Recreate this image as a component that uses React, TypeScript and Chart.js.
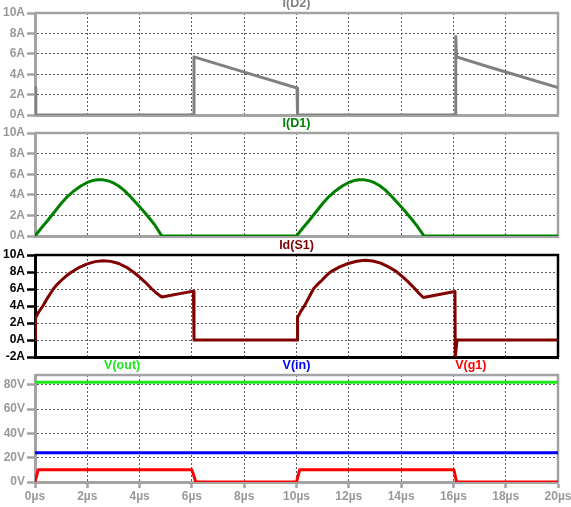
import { useEffect, useRef } from "react";
import { Chart, registerables } from "chart.js";

Chart.register(...registerables);

// Shared time axis (µs)
const timeTicks = [0, 2, 4, 6, 8, 10, 12, 14, 16, 18, 20];
const timeUnit = "µs";

// I(D2)
const d2Time = [0, 0.03, 6.06, 6.08, 8.0, 10.02, 10.04, 16.07, 16.09, 16.12, 17.3, 20];
const d2Amps = [2.7, 0, 0, 5.7, 4.2, 2.65, 0, 0, 7.7, 5.7, 4.75, 2.7];

// I(D1)
const d1Time = [
  0, 0.25, 0.5, 0.75, 1.0, 1.25, 1.5, 1.75, 2.0, 2.2, 2.4, 2.6, 2.8, 3.0, 3.2, 3.4, 3.6, 3.8, 4.0, 4.2, 4.4, 4.6, 4.85,
  10.0, 10.25, 10.5, 10.75, 11.0, 11.25, 11.5, 11.75, 12.0, 12.2, 12.4, 12.6, 12.8, 13.0, 13.2, 13.4, 13.6, 13.8, 14.0, 14.2, 14.4, 14.6, 14.88,
  20,
];
const d1Amps = [
  0, 0.8, 1.55, 2.35, 3.15, 3.85, 4.4, 4.85, 5.2, 5.38, 5.47, 5.45, 5.35, 5.15, 4.85, 4.45, 3.95, 3.4, 2.85, 2.25, 1.65, 1.0, 0,
  0, 0.8, 1.55, 2.35, 3.15, 3.85, 4.4, 4.85, 5.2, 5.38, 5.47, 5.45, 5.35, 5.15, 4.85, 4.45, 3.95, 3.4, 2.85, 2.25, 1.65, 1.0, 0,
  0,
];

// Id(S1)
const s1Time = [
  0, 0.02, 0.15, 0.3, 0.5, 0.7, 0.85, 1.0, 1.2, 1.4, 1.7, 2.0, 2.3, 2.6, 2.9, 3.2, 3.5, 3.76, 4.0, 4.2, 4.47, 4.65, 4.85,
  6.06, 6.08,
  10.02, 10.04, 10.17, 10.32, 10.5, 10.66, 10.82, 10.98, 11.15, 11.32, 11.65, 11.98, 12.3, 12.62, 12.92, 13.22, 13.52, 13.82, 14.05, 14.25, 14.52, 14.68, 14.85,
  16.06, 16.07, 16.14, 20,
];
const s1Amps = [
  0, 2.6, 3.35, 4.0, 5.05, 6.0, 6.55, 7.0, 7.55, 8.0, 8.55, 8.95, 9.22, 9.33, 9.25, 9.0, 8.55, 8.0, 7.4, 6.85, 6.0, 5.5, 5.05,
  5.75, 0,
  0, 2.65, 3.4, 4.1, 5.15, 6.05, 6.6, 7.05, 7.6, 8.05, 8.6, 9.0, 9.27, 9.38, 9.3, 9.05, 8.6, 8.05, 7.45, 6.9, 6.05, 5.5, 5.0,
  5.7, -2, 0, 0,
];

// V(out), V(in), V(g1)
const outTime = [0, 20];
const outVolts = [82, 82];
const inTime = [0, 20];
const inVolts = [24, 24];
const g1Time = [0, 0.12, 6.0, 6.15, 10.0, 10.12, 16.02, 16.12, 20];
const g1Volts = [0, 10, 10, 0, 0, 10, 10, 0, 0];

// Y tick values per pane
const ampTicks = [0, 2, 4, 6, 8, 10];
const switchAmpTicks = [-2, 0, 2, 4, 6, 8, 10];
const voltTicks = [0, 20, 40, 60, 80];

const W = 571;
const H = 507;
const FONT = "'Liberation Sans', Arial, Helvetica, sans-serif";
const GRID = "#5a5a5a";

type Trace = { label: string; time: number[]; values: number[]; color: string };
type Pane = {
  traces: Trace[];
  yMin: number;
  yMax: number;
  yTicks: number[];
  unit: string;
  top: number;
  bottom: number;
  frame: string;
  text: string;
  showTime: boolean;
};

const panes: Pane[] = [
  {
    traces: [{ label: "I(D2)", time: d2Time, values: d2Amps, color: "#808080" }],
    yMin: 0, yMax: 10, yTicks: ampTicks, unit: "A",
    top: 13, bottom: 115, frame: "#a3a3a3", text: "#999999", showTime: false,
  },
  {
    traces: [{ label: "I(D1)", time: d1Time, values: d1Amps, color: "#008000" }],
    yMin: 0, yMax: 10, yTicks: ampTicks, unit: "A",
    top: 133, bottom: 236, frame: "#a3a3a3", text: "#999999", showTime: false,
  },
  {
    traces: [{ label: "Id(S1)", time: s1Time, values: s1Amps, color: "#800000" }],
    yMin: -2, yMax: 10, yTicks: switchAmpTicks, unit: "A",
    top: 255, bottom: 357, frame: "#000000", text: "#000000", showTime: false,
  },
  {
    traces: [
      { label: "V(out)", time: outTime, values: outVolts, color: "#1ee61e" },
      { label: "V(in)", time: inTime, values: inVolts, color: "#0000ff" },
      { label: "V(g1)", time: g1Time, values: g1Volts, color: "#ff0000" },
    ],
    yMin: 0, yMax: 88, yTicks: voltTicks, unit: "V",
    top: 375, bottom: 482, frame: "#a3a3a3", text: "#999999", showTime: true,
  },
];

// Top and right edges of the plot frame
const paneFrame = {
  id: "paneFrame",
  beforeDatasetsDraw(chart: any, _args: any, opts: any) {
    const { ctx, chartArea } = chart;
    ctx.save();
    ctx.strokeStyle = opts.color;
    ctx.lineWidth = 2.5;
    ctx.beginPath();
    ctx.moveTo(chartArea.left, chartArea.top);
    ctx.lineTo(chartArea.right, chartArea.top);
    ctx.lineTo(chartArea.right, chartArea.bottom);
    ctx.stroke();
    ctx.restore();
  },
};

// Trace names above each pane, spread evenly across the width
const paneTitles = {
  id: "paneTitles",
  afterDraw(chart: any) {
    const { ctx, chartArea } = chart;
    const sets = chart.data.datasets;
    const n = sets.length;
    ctx.save();
    ctx.font = `bold 12.5px ${FONT}`;
    ctx.textAlign = "center";
    ctx.textBaseline = "middle";
    sets.forEach((ds: any, i: number) => {
      const x = chartArea.left + (chartArea.width * (2 * i + 1)) / (2 * n);
      ctx.fillStyle = ds.borderColor;
      ctx.fillText(ds.label, x, chartArea.top - 9);
    });
    ctx.restore();
  },
};

function PaneChart({ pane }: { pane: Pane }) {
  const ref = useRef<HTMLCanvasElement | null>(null);

  useEffect(() => {
    if (!ref.current) return;
    const edgeHidden = (c: any) => {
      const v = c.tick ? c.tick.value : undefined;
      return v === c.scale.min || v === c.scale.max ? "rgba(0,0,0,0)" : GRID;
    };
    const chart = new Chart(ref.current, {
      type: "line",
      data: {
        datasets: pane.traces.map((tr) => ({
          label: tr.label,
          data: tr.time.map((t, i) => ({ x: t, y: tr.values[i] })),
          borderColor: tr.color,
          backgroundColor: tr.color,
          borderWidth: 3,
          pointRadius: 0,
          tension: 0,
          fill: false,
          borderJoinStyle: "round",
        })),
      },
      options: {
        animation: false,
        responsive: false,
        devicePixelRatio: 1,
        events: [],
        layout: {
          autoPadding: false,
          padding: { left: 0, right: 13, top: pane.top, bottom: pane.showTime ? 0 : H - pane.bottom },
        },
        plugins: {
          legend: { display: false },
          tooltip: { enabled: false },
          paneFrame: { color: pane.frame },
        } as any,
        scales: {
          x: {
            type: "linear",
            position: "bottom",
            min: 0,
            max: 20,
            afterBuildTicks: (s: any) => {
              s.ticks = timeTicks.map((v) => ({ value: v }));
            },
            afterFit: (s: any) => {
              s.height = pane.showTime ? H - pane.bottom : 0;
              s.paddingLeft = 0;
              s.paddingRight = 0;
            },
            ticks: {
              display: pane.showTime,
              autoSkip: false,
              maxRotation: 0,
              padding: 1,
              color: pane.text,
              font: { family: FONT, size: 12, weight: "bold" },
              callback: (v: any) => `${v}${timeUnit}`,
            },
            grid: {
              color: edgeHidden,
              lineWidth: 1,
              drawTicks: pane.showTime,
              tickLength: 6,
              tickColor: pane.frame,
              tickWidth: 2.5,
            },
            border: { display: true, color: pane.frame, width: 3, dash: [2, 2] },
          },
          y: {
            type: "linear",
            position: "left",
            min: pane.yMin,
            max: pane.yMax,
            afterBuildTicks: (s: any) => {
              s.ticks = pane.yTicks.map((v) => ({ value: v }));
            },
            afterFit: (s: any) => {
              s.width = 35;
              s.paddingTop = 0;
              s.paddingBottom = 0;
            },
            ticks: {
              autoSkip: false,
              padding: 2,
              color: pane.text,
              font: { family: FONT, size: 12, weight: "bold" },
              callback: (v: any) => `${v}${pane.unit}`,
            },
            grid: {
              color: edgeHidden,
              lineWidth: 1,
              drawTicks: true,
              tickLength: 8,
              tickColor: pane.frame,
              tickWidth: 2.5,
            },
            border: { display: true, color: pane.frame, width: 3, dash: [2, 2] },
          },
        },
      } as any,
      plugins: [paneFrame, paneTitles],
    });
    return () => chart.destroy();
  }, [pane]);

  return (
    <canvas
      ref={ref}
      width={W}
      height={H}
      style={{ position: "absolute", left: 0, top: 0, width: W, height: H }}
    />
  );
}

export default function App() {
  return (
    <div style={{ position: "fixed", left: 0, top: 0, width: W, height: H, background: "#ffffff" }}>
      {panes.map((p, i) => (
        <PaneChart key={i} pane={p} />
      ))}
    </div>
  );
}
